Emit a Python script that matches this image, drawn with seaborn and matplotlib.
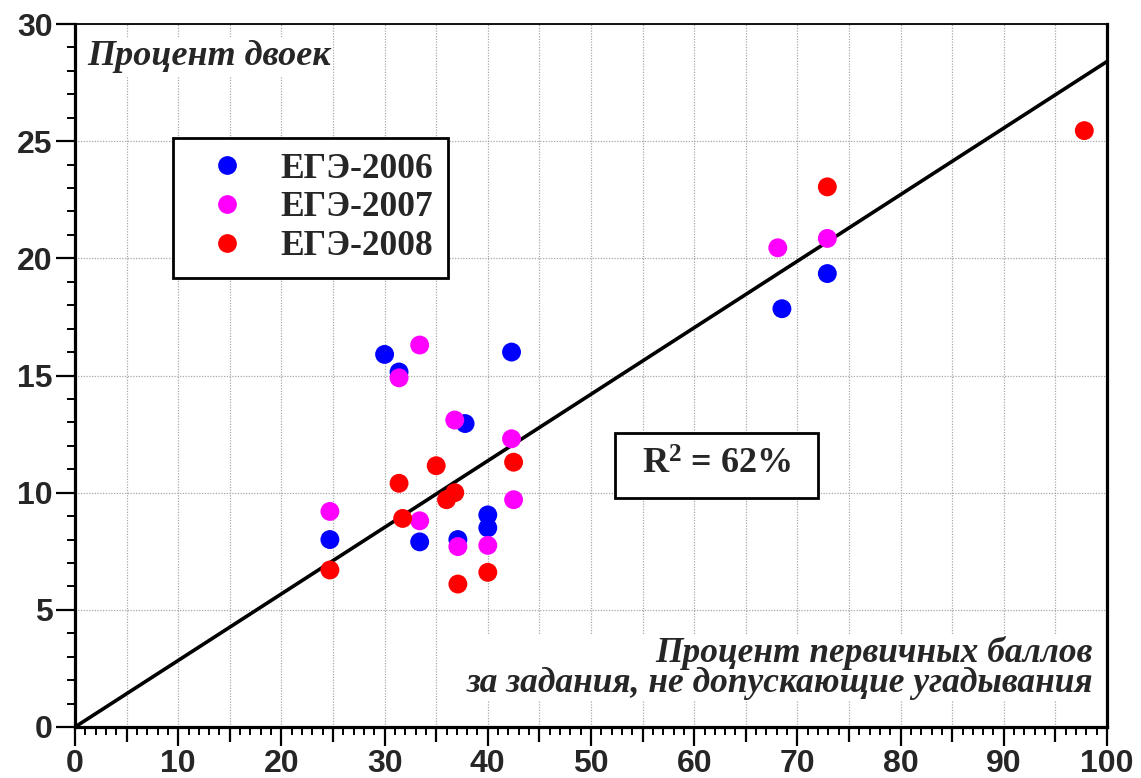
import numpy as np
import pandas as pd
import matplotlib
matplotlib.use("Agg")
import matplotlib.pyplot as plt
from matplotlib.ticker import MultipleLocator, FuncFormatter
from matplotlib.patches import Rectangle
import seaborn as sns

# ---------------- data ----------------
series_names = ["ЕГЭ-2006", "ЕГЭ-2007", "ЕГЭ-2008"]
series_colors = ["#0000ff", "#ff00ff", "#ff0000"]

x_2006 = [24.7, 30.0, 31.4, 33.4, 37.8, 37.1, 40.0, 40.0, 42.3, 68.5, 72.9]
y_2006 = [8.0, 15.9, 15.15, 7.9, 12.95, 8.0, 9.05, 8.5, 16.0, 17.85, 19.35]

x_2007 = [24.7, 33.4, 31.4, 36.8, 33.4, 37.1, 40.0, 42.3, 42.5, 68.1, 72.9]
y_2007 = [9.2, 16.3, 14.9, 13.1, 8.8, 7.7, 7.75, 12.3, 9.7, 20.45, 20.85]

x_2008 = [24.7, 31.4, 31.75, 35.0, 36.0, 36.8, 37.1, 40.0, 42.5, 72.9, 97.8]
y_2008 = [6.7, 10.4, 8.9, 11.15, 9.7, 10.0, 6.1, 6.6, 11.3, 23.05, 25.45]

trend_slope = 0.284
r2_label = r"$\mathregular{R^2}$ = 62%"
y_title = "Процент двоек"
x_title_lines = ["Процент первичных баллов", "за задания, не допускающие угадывания"]

df = pd.concat([
    pd.DataFrame({"x": x_2006, "y": y_2006, "series": series_names[0]}),
    pd.DataFrame({"x": x_2007, "y": y_2007, "series": series_names[1]}),
    pd.DataFrame({"x": x_2008, "y": y_2008, "series": series_names[2]}),
], ignore_index=True)

# ---------------- style ----------------
sns.set_style("white")
plt.rcParams["font.family"] = ["Liberation Sans", "DejaVu Sans"]

W, H = 1141, 778
fig = plt.figure(figsize=(W / 100, H / 100), dpi=100)
ax = fig.add_axes([75 / W, 1 - 727 / H, 1032 / W, 703 / H])

ax.set_xlim(0, 100)
ax.set_ylim(0, 30)

# grid
ax.xaxis.set_major_locator(MultipleLocator(5))
ax.xaxis.set_minor_locator(MultipleLocator(1))
ax.yaxis.set_major_locator(MultipleLocator(5))
ax.yaxis.set_minor_locator(MultipleLocator(1))
ax.grid(True, which="major", color="#a8a8a8", linestyle=(0, (1, 1.2)), linewidth=0.9, zorder=0)
ax.set_axisbelow(True)

# trend line
ax.axline((0, 0), slope=trend_slope, color="black", linewidth=2.6, zorder=2)

# points
sns.scatterplot(data=df, x="x", y="y", hue="series", hue_order=series_names,
                palette=series_colors, s=185, linewidth=0, edgecolor="none",
                ax=ax, zorder=3, legend=True)

# legend
handles, labels = ax.get_legend_handles_labels()
leg = ax.legend(handles, labels, loc="upper left", bbox_to_anchor=(0.095, 0.838),
                borderaxespad=0, frameon=True, fancybox=False, framealpha=1,
                edgecolor="black", facecolor="white",
                prop={"family": "Liberation Serif", "weight": "bold", "size": 25.5},
                borderpad=0.42, labelspacing=0.16, handletextpad=0.4,
                handlelength=2.2, markerscale=1.0)
leg.get_frame().set_linewidth(2.0)
leg.set_zorder(5)
for h in leg.legend_handles:
    try:
        h.set_markersize(13.5)
    except Exception:
        h.set_sizes([185])

# axis labels / ticks
ax.set_xlabel("")
ax.set_ylabel("")
ax.xaxis.set_major_formatter(FuncFormatter(lambda v, p: f"{int(round(v))}" if int(round(v)) % 10 == 0 else ""))
ax.yaxis.set_major_formatter(FuncFormatter(lambda v, p: f"{int(round(v))}"))

ax.tick_params(axis="both", which="major", direction="out", length=13.5, width=1.6,
               color="black", labelsize=23, pad=2.5)
ax.tick_params(axis="both", which="minor", direction="out", length=6, width=1.4, color="black")
ax.tick_params(axis="both", bottom=True, left=True, top=False, right=False)
ax.tick_params(axis="both", which="minor", bottom=True, left=True, top=False, right=False)
for lab in ax.get_xticklabels() + ax.get_yticklabels():
    lab.set_fontweight("bold")
    lab.set_family("Liberation Sans")

# medium ticks at odd multiples of 5 on x
for t, v in zip(ax.xaxis.get_major_ticks(), ax.get_xticks()):
    if int(round(v)) % 10 != 0:
        t.tick1line.set_markersize(10.5)

# spines
for side in ["left", "bottom", "right"]:
    ax.spines[side].set_linewidth(2.3)
    ax.spines[side].set_color("black")
ax.spines["top"].set_linewidth(1.3)
ax.spines["top"].set_color("black")

# texts
serif_bi = {"family": "Liberation Serif", "weight": "bold", "style": "italic"}
ax.text(0.0116, 0.9417, y_title, transform=ax.transAxes, ha="left", va="baseline",
        fontsize=26, fontdict=serif_bi, zorder=4,
        bbox=dict(facecolor="white", edgecolor="none", pad=2))
ax.text(0.9864, 0.0498, "\n".join(x_title_lines), transform=ax.transAxes,
        ha="right", va="baseline", multialignment="right", linespacing=0.86,
        fontsize=25.5, fontdict=serif_bi, zorder=4,
        bbox=dict(facecolor="white", edgecolor="none", pad=1))

# R^2 box
ax.add_patch(Rectangle((0.5233, 0.3257), 0.1967, 0.0925, transform=ax.transAxes,
                       facecolor="white", edgecolor="black", linewidth=2.0, zorder=4))
ax.text(0.6216, 0.372, r2_label, transform=ax.transAxes, ha="center", va="center",
        fontsize=26, family="Liberation Serif", weight="bold", zorder=5)

fig.savefig("out.png", dpi=100, facecolor="white")
